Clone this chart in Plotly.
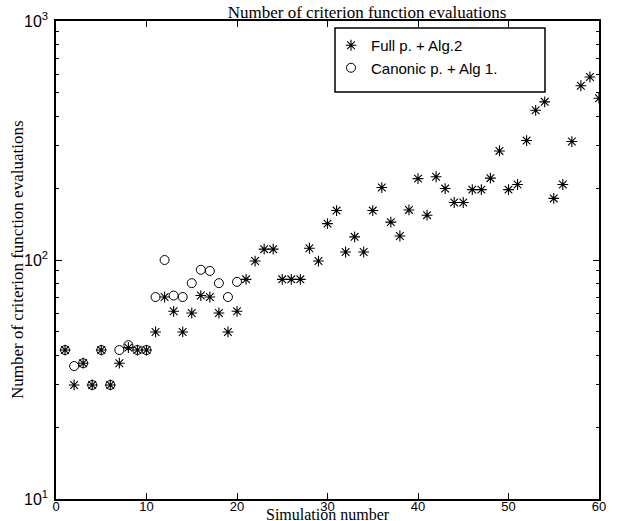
import plotly.graph_objects as go

sim_full = list(range(1, 61))
evals_full = [42, 30, 37, 30, 42, 30, 37, 43, 42, 42,
              50, 70, 61, 50, 60, 71, 70, 60, 50, 61,
              83, 99, 111, 111, 83, 83, 83, 112, 99, 142,
              161, 108, 125, 108, 161, 201, 144, 126, 162, 219,
              154, 223, 199, 174, 174, 197, 197, 220, 286, 197,
              207, 316, 423, 459, 181, 207, 313, 536, 583, 475]

sim_canon = list(range(1, 21))
evals_canon = [42, 36, 37, 30, 42, 30, 42, 44, 42, 42,
               70, 100, 71, 70, 80, 91, 90, 80, 70, 81]

x_ticks = [0, 10, 20, 30, 40, 50, 60]
y_ticks = [10, 100, 1000]
y_tick_text = ["10<sup>1</sup>", "10<sup>2</sup>", "10<sup>3</sup>"]
y_minor = [v * m for v in (10, 100) for m in range(2, 10)]

serif = "Liberation Serif"
sans = "Liberation Sans"

W, H = 639, 521
L, R, T, B = 56, 40, 21, 22
pw, ph = W - L - R, H - T - B


def px_x(px):
    return (px - L) / pw


def px_y(py):
    return (H - B - py) / ph


fig = go.Figure()
fig.add_trace(go.Scatter(
    x=sim_full, y=evals_full, mode="markers", name="Full p. + Alg.2",
    marker=dict(symbol="asterisk", size=9, color="black",
                line=dict(color="black", width=1.1)),
))
fig.add_trace(go.Scatter(
    x=sim_canon, y=evals_canon, mode="markers", name="Canonic p. + Alg 1.",
    marker=dict(symbol="circle-open", size=9, color="black",
                line=dict(color="black", width=1)),
))

fig.update_layout(
    width=W, height=H,
    margin=dict(l=L, r=R, t=T, b=B, autoexpand=False),
    paper_bgcolor="white", plot_bgcolor="white",
    title=dict(text="Number of criterion function evaluations",
               x=px_x(367), xref="paper", xanchor="center",
               y=1 - 12 / H, yref="container", yanchor="middle",
               font=dict(family=serif, size=17, color="black")),
    showlegend=True,
    legend=dict(x=px_x(331), y=px_y(29),
                xanchor="left", yanchor="top",
                bgcolor="rgba(0,0,0,0)", borderwidth=0,
                font=dict(family=sans, size=15, color="black"),
                itemwidth=30, tracegroupgap=0),
    shapes=[dict(type="rect", xref="paper", yref="paper",
                 x0=px_x(335), x1=px_x(545),
                 y0=px_y(92), y1=px_y(28),
                 line=dict(color="black", width=1.5),
                 fillcolor="white", layer="below")],
    annotations=[
        dict(text="Simulation number", xref="paper", yref="paper",
             x=0.5, y=px_y(514), xanchor="center",
             yanchor="middle", showarrow=False,
             font=dict(family=serif, size=16, color="black")),
        dict(text="Number of criterion function evaluations",
             xref="paper", yref="paper", x=px_x(17), y=0.5,
             xanchor="center", yanchor="middle", textangle=-90,
             showarrow=False,
             font=dict(family=serif, size=17, color="black")),
    ],
)

fig.update_xaxes(
    range=[0, 60], tickvals=x_ticks, ticks="inside", ticklen=6,
    tickcolor="black", mirror="ticks", showline=True, linecolor="black",
    linewidth=1.5, showgrid=False, zeroline=False, ticklabelstandoff=-5,
    automargin=False,
    tickfont=dict(family=sans, size=13, color="black"),
)
fig.update_yaxes(
    type="log", range=[1, 3], tickvals=y_ticks, ticktext=y_tick_text,
    ticks="inside", ticklen=6, tickcolor="black", mirror="ticks",
    showline=True, linecolor="black", linewidth=1.5, showgrid=False,
    zeroline=False, ticklabelstandoff=3, automargin=False,
    minor=dict(tickvals=y_minor, ticks="inside", ticklen=3,
               tickcolor="black", showgrid=False),
    tickfont=dict(family=sans, size=16, color="black"),
)

fig.write_html("out.html", config={"displayModeBar": False},
               post_script="document.body.style.margin='0';")
